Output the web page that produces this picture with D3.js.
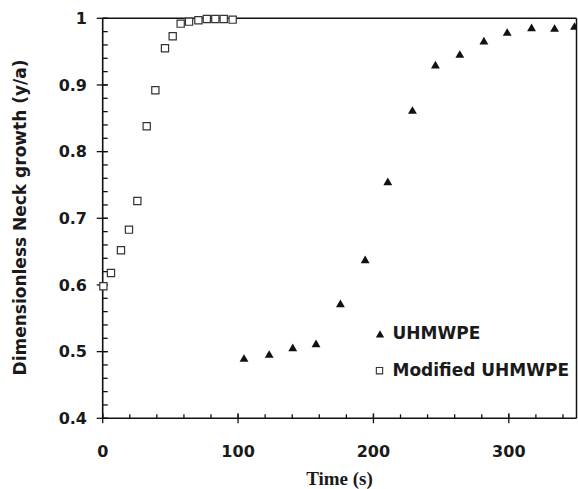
<!DOCTYPE html>
<html><head><meta charset="utf-8">
<script src="https://cdnjs.cloudflare.com/ajax/libs/d3/7.8.5/d3.min.js"></script>
<style>body{margin:0;background:#fff}svg{display:block}</style>
</head><body>
<svg id="c" width="578" height="489"></svg>
<script>
const xTicks = [0, 100, 200, 300];
const yTicks = [0.4, 0.5, 0.6, 0.7, 0.8, 0.9, 1];
const yTickLabels = ["0.4", "0.5", "0.6", "0.7", "0.8", "0.9", "1"];
const seriesNames = ["UHMWPE", "Modified UHMWPE"];
const uhmwpeTime = [104.4, 123, 140.4, 157.6, 175.6, 193.9, 210.6, 228.8, 245.8, 263.8, 281.6, 298.8, 316.8, 333.8, 348.5];
const uhmwpeVal  = [0.490, 0.496, 0.506, 0.512, 0.572, 0.638, 0.755, 0.862, 0.930, 0.946, 0.966, 0.979, 0.986, 0.985, 0.988];
const modTime = [0.5, 6.1, 13.5, 19.4, 25.6, 32.5, 38.9, 46, 51.7, 57.6, 63.8, 70.7, 76.9, 83.2, 89.4, 96];
const modVal  = [0.598, 0.618, 0.652, 0.683, 0.726, 0.838, 0.892, 0.955, 0.973, 0.992, 0.995, 0.997, 0.999, 0.999, 0.999, 0.998];

const svg = d3.select("#c");
const L = 102.7, R = 576.5, T = 18.3, B = 418.3;
const x = d3.scaleLinear().domain([0, 350]).range([L, R]);
const y = d3.scaleLinear().domain([0.4, 1]).range([B, T]);
const sans = "'DejaVu Sans', sans-serif";

// frame
const fr = svg.append("g").attr("stroke", "#111").attr("stroke-width", 1.5).attr("fill", "none");
fr.append("line").attr("x1", L).attr("x2", R).attr("y1", T).attr("y2", T);
fr.append("line").attr("x1", R).attr("x2", R).attr("y1", T).attr("y2", B);

// minor ticks
const g = svg.append("g").attr("stroke", "#111").attr("stroke-width", 1.3);
d3.range(0, 351, 20).forEach(v => {
  g.append("line").attr("x1", x(v)).attr("x2", x(v)).attr("y1", B).attr("y2", B - 4);
});
d3.range(0, 31).map(i => 0.4 + i * 0.02).forEach(v => {
  g.append("line").attr("x1", L).attr("x2", L + 5).attr("y1", y(v)).attr("y2", y(v));
});
// major ticks
xTicks.forEach(v => {
  g.append("line").attr("x1", x(v)).attr("x2", x(v)).attr("y1", B - 5).attr("y2", B + 5);
});
yTicks.forEach(v => {
  g.append("line").attr("x1", L - 6).attr("x2", L + 5).attr("y1", y(v)).attr("y2", y(v));
});
// axes lines
g.append("line").attr("x1", L).attr("x2", R).attr("y1", B).attr("y2", B).attr("stroke-width", 1.6);
g.append("line").attr("x1", L).attr("x2", L).attr("y1", T).attr("y2", B).attr("stroke-width", 1.6);

// tick labels
svg.append("g").selectAll("text").data(xTicks).join("text")
  .attr("x", d => x(d)).attr("y", 456.5).attr("text-anchor", "middle")
  .attr("font-family", sans).attr("font-weight", "bold").attr("font-size", 16).attr("fill", "#1a1a1a")
  .text(d => d);
svg.append("g").selectAll("text").data(yTicks).join("text")
  .attr("x", 87).attr("y", d => y(d)).attr("dy", "0.36em").attr("text-anchor", "end")
  .attr("font-family", sans).attr("font-weight", "bold").attr("font-size", 16).attr("fill", "#1a1a1a")
  .text((d, i) => yTickLabels[i]);

// axis titles
svg.append("text").attr("x", 339.5).attr("y", 485).attr("text-anchor", "middle")
  .attr("font-family", "'Liberation Serif', 'Times New Roman', serif").attr("font-weight", "bold")
  .attr("font-size", 19).attr("fill", "#1a1a1a").text("Time (s)");
svg.append("text").attr("transform", "translate(26,217.5) rotate(-90)").attr("text-anchor", "middle")
  .attr("font-family", sans).attr("font-weight", "bold").attr("font-size", 17).attr("fill", "#1a1a1a")
  .text("Dimensionless Neck growth (y/a)");

// clip
svg.append("clipPath").attr("id", "clip").append("rect")
  .attr("x", 0).attr("y", 0).attr("width", R).attr("height", B + 10);
const plot = svg.append("g").attr("clip-path", "url(#clip)");

const tri = d3.symbol().type(d3.symbolTriangle).size(34);
const sq = d3.symbol().type(d3.symbolSquare).size(52);

plot.selectAll(".m").data(modTime).join("path").attr("class", "m")
  .attr("d", sq).attr("transform", (d, i) => `translate(${x(d)},${y(modVal[i])})`)
  .attr("fill", "#fff").attr("stroke", "#333").attr("stroke-width", 1.2);
plot.selectAll(".u").data(uhmwpeTime).join("path").attr("class", "u")
  .attr("d", tri).attr("transform", (d, i) => `translate(${x(d)},${y(uhmwpeVal[i]) + 1})`)
  .attr("fill", "#111");

// legend
const lg = svg.append("g");
lg.append("path").attr("d", d3.symbol().type(d3.symbolTriangle).size(30)).attr("transform", "translate(380,335)").attr("fill", "#111");
lg.append("path").attr("d", d3.symbol().type(d3.symbolSquare).size(40)).attr("transform", "translate(379.5,370.7)")
  .attr("fill", "#fff").attr("stroke", "#333").attr("stroke-width", 1.1);
lg.append("text").attr("x", 392.5).attr("y", 339.3).attr("font-family", sans).attr("font-weight", "bold")
  .attr("font-size", 17).attr("fill", "#1a1a1a").text(seriesNames[0]);
lg.append("text").attr("x", 392.5).attr("y", 376).attr("font-family", sans).attr("font-weight", "bold")
  .attr("font-size", 17).attr("fill", "#1a1a1a").text(seriesNames[1]);
</script>
</body></html>
